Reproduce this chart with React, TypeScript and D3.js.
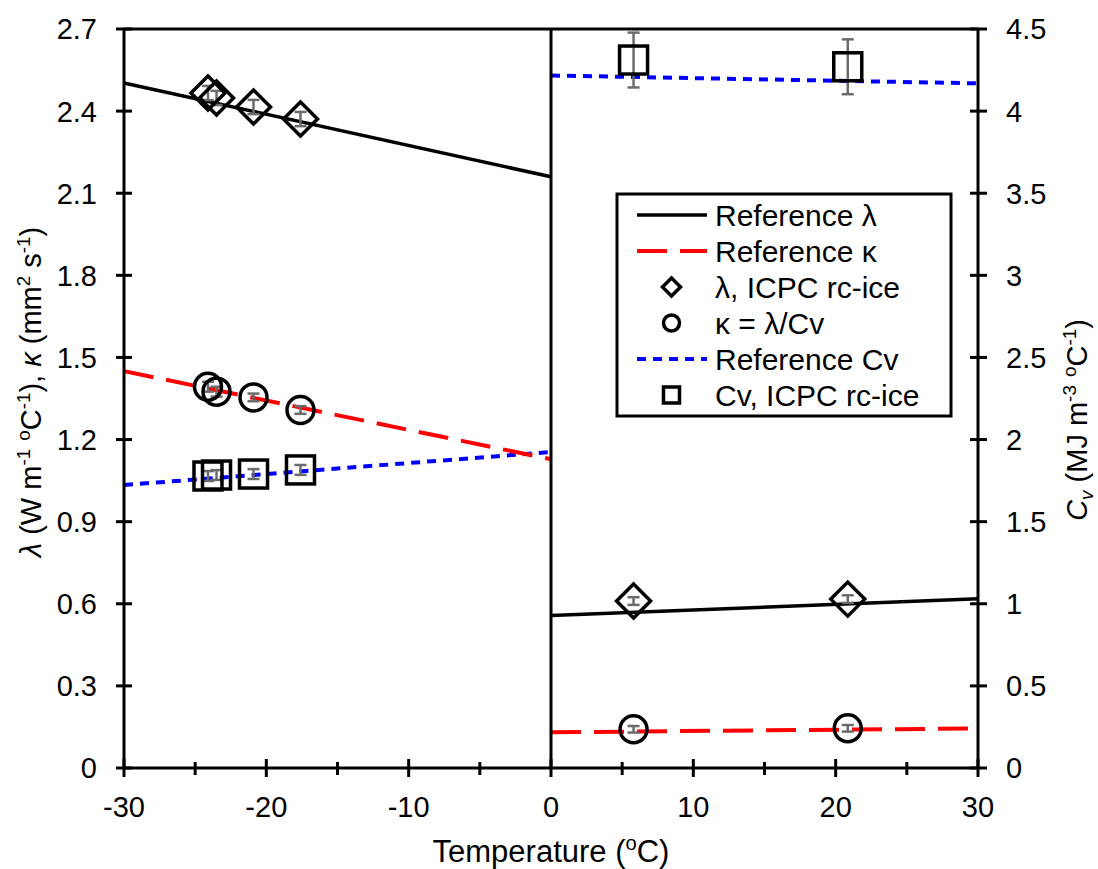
import React from "react";
import * as d3 from "d3";

// ---- data ----
const xTicksMajor = [-30, -20, -10, 0, 10, 20, 30];
const xTicksMinor = [-25, -15, -5, 5, 15, 25];
const yLeftTicks = [0, 0.3, 0.6, 0.9, 1.2, 1.5, 1.8, 2.1, 2.4, 2.7];
const yRightTicks = [0, 0.5, 1, 1.5, 2, 2.5, 3, 3.5, 4, 4.5];

// reference lines (ice: -30..0, water: 0..30)
const refLambdaIceT = [-30, 0];
const refLambdaIce = [2.503, 2.16];
const refLambdaWaterT = [0, 30];
const refLambdaWater = [0.557, 0.618];
const refKappaIceT = [-30, 0];
const refKappaIce = [1.45, 1.128];
const refKappaWaterT = [0, 30];
const refKappaWater = [0.1305, 0.1445];
const refCvIceT = [-30, 0];
const refCvIce = [1.723, 1.924];
const refCvWaterT = [0, 30];
const refCvWater = [4.217, 4.169];

// ICPC rc-ice measurements
const measT = [-24.1, -23.5, -20.9, -17.6, 5.8, 20.85];
const lambdaVals = [2.466, 2.448, 2.415, 2.371, 0.61, 0.617];
const lambdaErr = [0.026, 0.026, 0.026, 0.026, 0.014, 0.014];
const kappaVals = [1.393, 1.375, 1.354, 1.308, 0.1414, 0.145];
const kappaErr = [0.018, 0.018, 0.014, 0.014, 0.012, 0.012];
const cvVals = [1.778, 1.784, 1.79, 1.815, 4.311, 4.27];
const cvErr = [0.03, 0.03, 0.03, 0.03, 0.167, 0.167];

const legendItems = [
  { label: "Reference λ", kind: "line", color: "#000", dash: "" },
  { label: "Reference κ", kind: "line", color: "#ff0000", dash: "30 13" },
  { label: "λ, ICPC rc-ice", kind: "diamond" },
  { label: "κ = λ/Cv", kind: "circle" },
  { label: "Reference Cv", kind: "line", color: "#0000ff", dash: "9 7" },
  { label: "Cv, ICPC rc-ice", kind: "square" },
];

const FONT = "'Liberation Sans', Arial, sans-serif";

type Seg = { t: string; sup?: boolean; sub?: boolean; it?: boolean };
function RichText({ segs, size }: { segs: Seg[]; size: number }) {
  let cur = 0;
  const out: React.ReactNode[] = [];
  segs.forEach((s, i) => {
    const target = s.sup ? -size * 0.38 : s.sub ? size * 0.22 : 0;
    const dy = target - cur;
    cur = target;
    out.push(
      <tspan
        key={i}
        dy={dy}
        fontSize={s.sup || s.sub ? size * 0.65 : size}
        fontStyle={s.it ? "italic" : "normal"}
      >
        {s.t}
      </tspan>
    );
  });
  return <>{out}</>;
}

export default function App() {
  const W = 1098, H = 869;
  const x = d3.scaleLinear().domain([-30, 30]).range([124, 978]);
  const yL = d3.scaleLinear().domain([0, 2.7]).range([768, 29]);
  const yR = d3.scaleLinear().domain([0, 4.5]).range([768, 29]);

  const lineL = (ts: number[], vs: number[]) =>
    d3.line<number>().x((_, i) => x(ts[i])).y((v) => yL(v))(vs) || "";
  const lineR = (ts: number[], vs: number[]) =>
    d3.line<number>().x((_, i) => x(ts[i])).y((v) => yR(v))(vs) || "";

  const errColor = "#6b6b6b";
  const errBar = (cx: number, y0: number, y1: number, key: string) => (
    <g key={key} stroke={errColor} strokeWidth={2.5}>
      <line x1={cx} x2={cx} y1={y0} y2={y1} />
      <line x1={cx - 6} x2={cx + 6} y1={y0} y2={y0} />
      <line x1={cx - 6} x2={cx + 6} y1={y1} y2={y1} />
    </g>
  );

  const diamond = (cx: number, cy: number, r: number, sw: number, key: string) => (
    <path
      key={key}
      d={`M${cx},${cy - r}L${cx + r},${cy}L${cx},${cy + r}L${cx - r},${cy}Z`}
      fill="none"
      stroke="#000"
      strokeWidth={sw}
    />
  );
  const circle = (cx: number, cy: number, r: number, sw: number, key: string) => (
    <circle key={key} cx={cx} cy={cy} r={r} fill="none" stroke="#000" strokeWidth={sw} />
  );
  const square = (cx: number, cy: number, h: number, sw: number, key: string) => (
    <rect key={key} x={cx - h} y={cy - h} width={2 * h} height={2 * h} fill="none" stroke="#000" strokeWidth={sw} />
  );

  const tickSize = 29;
  const legX = 617, legY = 194, legW = 334, legH = 222;

  return (
    <svg
      width={W}
      height={H}
      style={{ position: "absolute", left: 0, top: 0, background: "#fff" }}
      fontFamily={FONT}
    >
      <rect x={0} y={0} width={W} height={H} fill="#fff" />

      {/* reference lines */}
      <path d={lineR(refCvIceT, refCvIce)} fill="none" stroke="#0000ff" strokeWidth={4} strokeDasharray="9 7" />
      <path d={lineR(refCvWaterT, refCvWater)} fill="none" stroke="#0000ff" strokeWidth={4} strokeDasharray="9 7" />
      <path d={lineL(refKappaIceT, refKappaIce)} fill="none" stroke="#ff0000" strokeWidth={4} strokeDasharray="30 13" />
      <path d={lineL(refKappaWaterT, refKappaWater)} fill="none" stroke="#ff0000" strokeWidth={4} strokeDasharray="30 13" />
      <path d={lineL(refLambdaIceT, refLambdaIce)} fill="none" stroke="#000" strokeWidth={3.5} />
      <path d={lineL(refLambdaWaterT, refLambdaWater)} fill="none" stroke="#000" strokeWidth={3.5} />

      {/* error bars */}
      {measT.map((t, i) => errBar(x(t), yL(lambdaVals[i] + lambdaErr[i]), yL(lambdaVals[i] - lambdaErr[i]), "el" + i))}
      {measT.map((t, i) => errBar(x(t), yL(kappaVals[i] + kappaErr[i]), yL(kappaVals[i] - kappaErr[i]), "ek" + i))}
      {measT.map((t, i) => errBar(x(t), yR(cvVals[i] + cvErr[i]), yR(cvVals[i] - cvErr[i]), "ec" + i))}

      {/* markers */}
      {measT.map((t, i) => diamond(x(t), yL(lambdaVals[i]), 17, 3.5, "d" + i))}
      {measT.map((t, i) => circle(x(t), yL(kappaVals[i]), 13.5, 3.5, "c" + i))}
      {measT.map((t, i) => square(x(t), yR(cvVals[i]), 14, 3.5, "s" + i))}

      {/* frame / axes */}
      <g stroke="#000" strokeWidth={3}>
        <line x1={124} x2={978} y1={29} y2={29} />
        <line x1={124} x2={978} y1={768} y2={768} />
        <line x1={124} x2={124} y1={29} y2={768} />
        <line x1={978} x2={978} y1={29} y2={768} />
        <line x1={x(0)} x2={x(0)} y1={29} y2={768} />
        {xTicksMajor.map((t) => (
          <line key={"xm" + t} x1={x(t)} x2={x(t)} y1={759} y2={777} />
        ))}
        {xTicksMinor.map((t) => (
          <line key={"xn" + t} x1={x(t)} x2={x(t)} y1={762} y2={775} />
        ))}
        {yLeftTicks.map((v) => (
          <line key={"yl" + v} x1={116} x2={132} y1={yL(v)} y2={yL(v)} />
        ))}
        {yRightTicks.map((v) => (
          <line key={"yr" + v} x1={970} x2={987} y1={yR(v)} y2={yR(v)} />
        ))}
      </g>

      {/* tick labels */}
      <g fontSize={tickSize} fill="#000">
        {xTicksMajor.map((t) => (
          <text key={"xl" + t} x={x(t)} y={817} textAnchor="middle">
            {t}
          </text>
        ))}
        {yLeftTicks.map((v) => (
          <text key={"yll" + v} x={97} y={yL(v)} dy="0.36em" textAnchor="end">
            {v === 0 ? "0" : v.toFixed(1)}
          </text>
        ))}
        {yRightTicks.map((v) => (
          <text key={"yrl" + v} x={1006} y={yR(v)} dy="0.36em" textAnchor="start">
            {String(v)}
          </text>
        ))}
      </g>

      {/* axis titles */}
      <text x={551} y={862} textAnchor="middle" fontSize={31}>
        <RichText
          size={31}
          segs={[{ t: "Temperature (" }, { t: "o", sup: true }, { t: "C)" }]}
        />
      </text>
      <text transform="translate(41,392) rotate(-90)" textAnchor="middle" fontSize={29}>
        <RichText
          size={29}
          segs={[
            { t: "λ", it: true },
            { t: " (W m" },
            { t: "-1", sup: true },
            { t: " " },
            { t: "o", sup: true },
            { t: "C" },
            { t: "-1", sup: true },
            { t: "), " },
            { t: "κ", it: true },
            { t: " (mm" },
            { t: "2", sup: true },
            { t: " s" },
            { t: "-1", sup: true },
            { t: ")" },
          ]}
        />
      </text>
      <text transform="translate(1087,420) rotate(-90)" textAnchor="middle" fontSize={29}>
        <RichText
          size={29}
          segs={[
            { t: "C", it: true },
            { t: "v", sub: true, it: true },
            { t: " (MJ m" },
            { t: "-3", sup: true },
            { t: " " },
            { t: "o", sup: true },
            { t: "C" },
            { t: "-1", sup: true },
            { t: ")" },
          ]}
        />
      </text>

      {/* legend */}
      <rect x={legX} y={legY} width={legW} height={legH} fill="#fff" stroke="#000" strokeWidth={3} />
      {legendItems.map((it, i) => {
        const cy = 215 + i * 36;
        const mx = 671.5;
        let mark: React.ReactNode = null;
        if (it.kind === "line") {
          mark = (
            <line
              x1={637}
              x2={707}
              y1={cy}
              y2={cy}
              stroke={it.color}
              strokeWidth={it.color === "#000" ? 3.5 : 4}
              strokeDasharray={it.dash || undefined}
            />
          );
        } else if (it.kind === "diamond") {
          mark = diamond(mx, cy, 9, 3.5, "ld");
        } else if (it.kind === "circle") {
          mark = circle(mx, cy, 8, 3.5, "lc");
        } else {
          mark = square(mx, cy, 8, 3.5, "ls");
        }
        return (
          <g key={"leg" + i}>
            {mark}
            <text x={715} y={cy} dy="0.36em" fontSize={30}>
              {it.label}
            </text>
          </g>
        );
      })}
    </svg>
  );
}
